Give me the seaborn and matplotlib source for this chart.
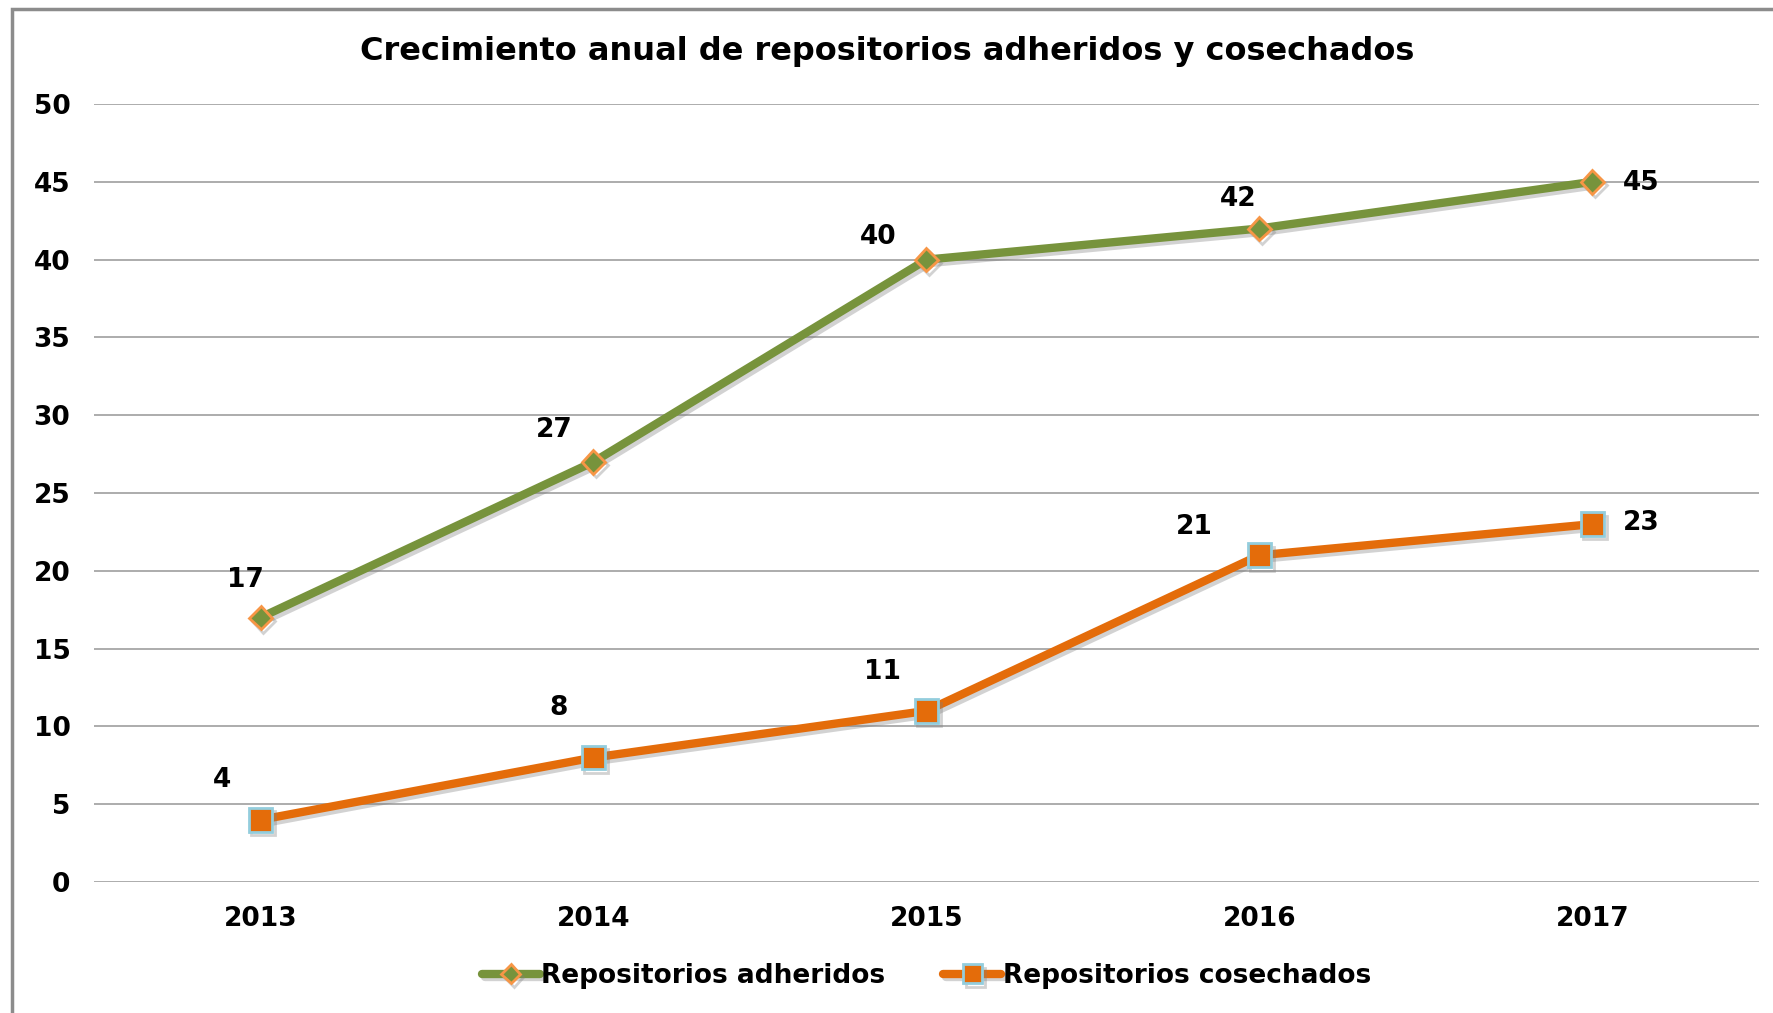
import pandas as pd
import matplotlib.pyplot as plt
import matplotlib.patheffects as pe
from matplotlib.patches import Rectangle
import seaborn as sns

sns.set_style('white')
plt.rcParams['font.family'] = ['DejaVu Sans']
plt.rcParams['font.weight'] = 'bold'
plt.rcParams['text.color'] = 'black'
plt.rcParams['xtick.color'] = 'black'
plt.rcParams['ytick.color'] = 'black'

# datos
anios = ['2013', '2014', '2015', '2016', '2017']
adheridos = [17, 27, 40, 42, 45]
cosechados = [4, 8, 11, 21, 23]

# desplazamiento de etiquetas (puntos)
offs_adheridos = [(-11, 27), (-28, 23), (-35, 16), (-15, 21), (35, -1)]
offs_cosechados = [(-28, 29), (-25, 36), (-32, 28), (-47, 20), (35, 1)]

df = pd.DataFrame({'anio': anios, 'adheridos': adheridos, 'cosechados': cosechados})

fig = plt.figure(figsize=(17.74, 10.13), dpi=100)
ax = fig.add_axes([0.053, 0.1293, 0.9385, 0.768])

sombra = [pe.SimpleLineShadow(offset=(2, -2.5), alpha=0.35, shadow_color='gray'), pe.Normal()]

sns.lineplot(data=df, x='anio', y='adheridos', ax=ax, color='#77933C', linewidth=6,
             marker='D', markersize=12, markerfacecolor='#77933C', markeredgecolor='#F79646',
             markeredgewidth=2, label='Repositorios adheridos', path_effects=sombra, zorder=3)
sns.lineplot(data=df, x='anio', y='cosechados', ax=ax, color='#E46C0A', linewidth=6,
             marker='s', markersize=17, markerfacecolor='#E46C0A', markeredgecolor='#93CDDD',
             markeredgewidth=2, label='Repositorios cosechados', path_effects=sombra, zorder=3)

for i, v in enumerate(adheridos):
    ax.annotate(str(v), (i, v), xytext=offs_adheridos[i], textcoords='offset points',
                ha='center', va='center', fontsize=19, fontweight='bold', color='black')
for i, v in enumerate(cosechados):
    ax.annotate(str(v), (i, v), xytext=offs_cosechados[i], textcoords='offset points',
                ha='center', va='center', fontsize=19, fontweight='bold', color='black')

ax.set_xlim(-0.5, 4.5)
ax.set_ylim(0, 50)
ax.set_yticks(range(0, 51, 5))
ax.grid(axis='y', color='#A6A6A6', linewidth=1.3)
ax.grid(axis='x', visible=False)
ax.set_axisbelow(True)
for s in ax.spines.values():
    s.set_visible(False)
ax.tick_params(axis='both', length=0, labelsize=19, pad=17)
for lbl in ax.get_xticklabels() + ax.get_yticklabels():
    lbl.set_fontweight('bold')
ax.set_xlabel('')
ax.set_ylabel('')

fig.text(0.5, 0.949, 'Crecimiento anual de repositorios adheridos y cosechados',
         ha='center', va='center', fontsize=23, fontweight='bold', color='black')

ax.legend(loc='center', bbox_to_anchor=(0.5, -0.121), ncol=2, frameon=False,
          fontsize=19, handlelength=2.2, columnspacing=2.2, handletextpad=0.05,
          markerscale=0.8)

# marco del gráfico
fig.patches.append(Rectangle((0.0068, -0.05), 1.2, 0.041 + 1.0, transform=fig.transFigure,
                             fill=False, edgecolor='#8C8C8C', linewidth=2.5))

plt.savefig('out.png', dpi=100)
